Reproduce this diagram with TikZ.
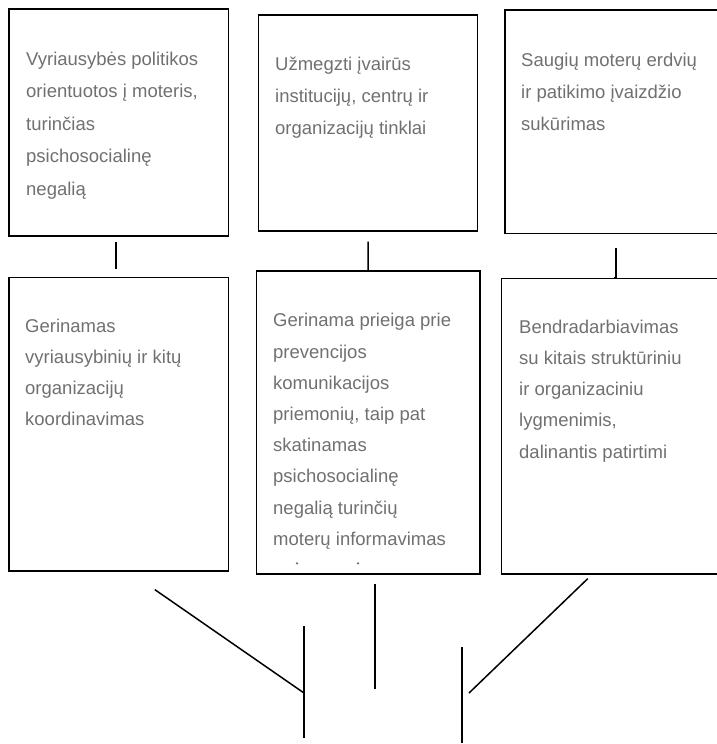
\documentclass[tikz,border=0pt]{standalone}
\usepackage{fontspec}
\newfontfamily\boxfont{Liberation Sans}
\usetikzlibrary{positioning,calc}
\definecolor{txtgray}{HTML}{707070}
\tikzset{
  box/.style={rectangle,draw,line width=1.6pt,inner sep=0pt,anchor=north west},
  lbl/.style={anchor=north west,inner sep=0pt,align=left,text=txtgray,
    font=\boxfont\fontsize{18.5}{#1}\selectfont},
  lbl/.default=32.5,
  link/.style={line width=1.5pt}
}

\begin{document}
\begin{tikzpicture}[x=1pt,y=-1pt]
\useasboundingbox (0,0) rectangle (716,744);
% upper row: goals
\node[box,minimum width=219.4pt,minimum height=226.7pt] (goal1) at (8.3,8.3) {};
\node[box,minimum width=219pt,minimum height=215.7pt] (goal2) at (257.7,14.3) {};
\node[box,minimum width=220pt,minimum height=223.7pt] (goal3) at (504.3,9) {};
\node[lbl] (goaltxt1) at (26,42.25) {\strut Vyriausybės politikos\\orientuotos į moteris,\\turinčias\\psichosocialinę\\negalią};
\node[lbl=32] (goaltxt2) at (275,48.3) {\strut Užmegzti įvairūs\\institucijų, centrų ir\\organizacijų tinklai};
\node[lbl=32] (goaltxt3) at (521,44.3) {\strut Saugių moterų erdvių\\ir patikimo įvaizdžio\\sukūrimas};
% lower row: actions
\node[box,minimum width=219.4pt,minimum height=293.3pt] (act1) at (8.3,276.7) {};
\node[box,minimum width=223.3pt,minimum height=303pt] (act2) at (255.7,270) {};
\node[box,minimum width=225pt,minimum height=295.6pt] (act3) at (500.7,277.7) {};
\node[lbl=31.2] (acttxt1) at (25,310.2) {\strut Gerinamas\\vyriausybinių ir kitų\\organizacijų\\koordinavimas};
\node[lbl=31.2] (acttxt2) at (273,304.9) {\strut Gerinama prieiga prie\\prevencijos\\komunikacijos\\priemonių, taip pat\\skatinamas\\psichosocialinę\\negalią turinčių\\moterų informavimas};
\node[lbl=31.2] (acttxt3) at (519,311.2) {\strut Bendradarbiavimas\\su kitais struktūriniu\\ir organizaciniu\\lygmenimis,\\dalinantis patirtimi};
\fill[txtgray] (297,563.3) circle (1.3) (358,563.3) circle (1.3);
% links between rows
\draw[link] ($(goal1.south)+(-3,5)$) -- ($(act1.north)+(-3,-7.7)$);
\draw[link] ($(goal2.south)+(0,10)$) -- (act2.north);
\draw[link] ($(goal3.south)+(0.7,14)$) |- (act3.north);
% lines below
\coordinate (join1) at (304,693);
\coordinate (join2) at (469,693);
\draw[link] (304,626) -- (304,738);
\draw[link] (462,647) -- (462,743);
\draw[link] ($(act1.south)+(36,18)$) -- (join1);
\draw[link] ($(act2.south)+(7,9)$) -- ++(0,105);
\draw[link] ($(act3.south)+(-26.2,3.7)$) -- (join2);
\end{tikzpicture}
\end{document}
